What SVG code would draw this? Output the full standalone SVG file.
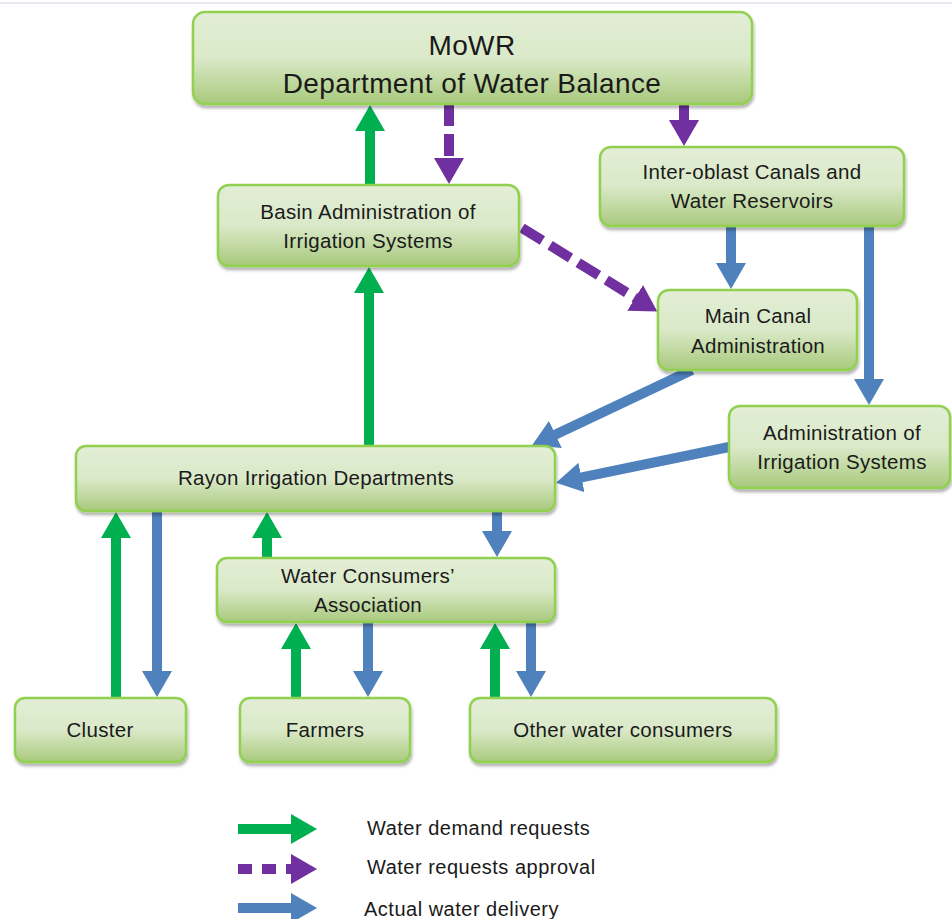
<svg xmlns="http://www.w3.org/2000/svg" width="952" height="919" viewBox="0 0 952 919">
<style>
.box{fill:url(#g);stroke:#92d050;stroke-width:2.5;filter:url(#sh)}
.t{font-family:"Liberation Sans","Open Sans",sans-serif;font-size:20.5px;letter-spacing:0.3px;fill:#1a1a1a;text-anchor:middle}
.big{font-size:28px;letter-spacing:0.4px}
.lg{font-family:"Liberation Sans","Open Sans",sans-serif;font-size:20px;letter-spacing:0.5px;fill:#1a1a1a}
.gr{stroke:#00b050;stroke-width:10;fill:none;marker-end:url(#ag)}
.pu{stroke:#7030a0;stroke-width:10;fill:none;marker-end:url(#ap)}
.pd{stroke:#7030a0;stroke-width:10;fill:none;stroke-dasharray:22 8;marker-end:url(#ap)}
.bl{stroke:#4f81bd;stroke-width:10;fill:none;marker-end:url(#ab)}
</style>
<defs>
<linearGradient id="g" x1="0" y1="0" x2="0" y2="1">
<stop offset="0" stop-color="#e2eed6"/>
<stop offset="0.5" stop-color="#dae9c8"/>
<stop offset="1" stop-color="#a8c97c"/>
</linearGradient>
<filter id="sh" x="-10%" y="-10%" width="120%" height="130%">
<feDropShadow dx="1" dy="3" stdDeviation="1.5" flood-color="#000" flood-opacity="0.3"/>
</filter>
<marker id="ag" markerUnits="userSpaceOnUse" markerWidth="26" markerHeight="30" viewBox="0 0 26 30" refX="1" refY="15" orient="auto"><path d="M0,0 L26,15 L0,30 Z" fill="#00b050"/></marker>
<marker id="ap" markerUnits="userSpaceOnUse" markerWidth="26" markerHeight="30" viewBox="0 0 26 30" refX="1" refY="15" orient="auto"><path d="M0,0 L26,15 L0,30 Z" fill="#7030a0"/></marker>
<marker id="ab" markerUnits="userSpaceOnUse" markerWidth="26" markerHeight="30" viewBox="0 0 26 30" refX="1" refY="15" orient="auto"><path d="M0,0 L26,15 L0,30 Z" fill="#4f81bd"/></marker>
</defs>
<rect width="952" height="919" fill="#fff"/>
<line x1="0" y1="3" x2="952" y2="3" stroke="#dfe5ec" stroke-width="1.5"/>

<g id="connectors">
<line class="gr" x1="370" y1="185" x2="370" y2="130"/>
<line class="pd" x1="449" y1="104" x2="449" y2="159"/>
<line class="pu" x1="684" y1="104" x2="684" y2="121"/>
<line class="pd" x1="522" y1="228" x2="636" y2="298.4" style="stroke-dasharray:24 9"/>
<line class="bl" x1="731" y1="226" x2="731" y2="264"/>
<line class="bl" x1="869" y1="226" x2="869" y2="380"/>
<line class="gr" x1="369" y1="446" x2="369" y2="292"/>
<line class="bl" x1="692" y1="370" x2="554.5" y2="434.9"/>
<line class="bl" x1="729" y1="447" x2="580.5" y2="477.7"/>
<line class="gr" x1="116" y1="698" x2="116" y2="537"/>
<line class="bl" x1="157" y1="511" x2="157" y2="672"/>
<line class="gr" x1="267" y1="558" x2="267" y2="537"/>
<line class="bl" x1="497" y1="511" x2="497" y2="532"/>
<line class="gr" x1="296" y1="698" x2="296" y2="648"/>
<line class="bl" x1="368" y1="622" x2="368" y2="672"/>
<line class="gr" x1="495" y1="698" x2="495" y2="648"/>
<line class="bl" x1="531" y1="622" x2="531" y2="672"/>
</g>

<g id="mowr"><rect class="box" x="193" y="12" width="559" height="92" rx="12"/>
<text class="t big" x="472" y="55">MoWR</text><text class="t big" x="472" y="93">Department of Water Balance</text></g>
<g id="basin"><rect class="box" x="218" y="185" width="301" height="81" rx="11"/>
<text class="t" x="368" y="219">Basin Administration of</text><text class="t" x="368" y="248">Irrigation Systems</text></g>
<g id="interoblast"><rect class="box" x="600" y="147" width="304" height="79" rx="11"/>
<text class="t" x="752" y="179">Inter-oblast Canals and</text><text class="t" x="752" y="208">Water Reservoirs</text></g>
<g id="maincanal"><rect class="box" x="658" y="290" width="199" height="80" rx="11"/>
<text class="t" x="758" y="323">Main Canal</text><text class="t" x="758" y="353">Administration</text></g>
<g id="adminirr"><rect class="box" x="729" y="406" width="221" height="82" rx="11"/>
<text class="t" x="842" y="440">Administration of</text><text class="t" x="842" y="469">Irrigation Systems</text></g>
<g id="rayon"><rect class="box" x="76" y="446" width="479" height="65" rx="10"/>
<text class="t" x="316" y="485">Rayon Irrigation Departments</text></g>
<g id="wca"><rect class="box" x="217" y="558" width="338" height="64" rx="10"/>
<text class="t" x="368" y="583">Water Consumers’</text><text class="t" x="368" y="612">Association</text></g>
<g id="cluster"><rect class="box" x="15" y="698" width="171" height="64" rx="10"/>
<text class="t" x="100" y="737">Cluster</text></g>
<g id="farmers"><rect class="box" x="240" y="698" width="170" height="64" rx="10"/>
<text class="t" x="325" y="737">Farmers</text></g>
<g id="other"><rect class="box" x="470" y="698" width="306" height="64" rx="10"/>
<text class="t" x="623" y="737">Other water consumers</text></g>

<g id="legend">
<line class="gr" x1="238" y1="829" x2="292" y2="829"/>
<line class="pd" x1="238" y1="869" x2="292" y2="869" style="stroke-dasharray:14 10"/>
<line class="bl" x1="238" y1="908" x2="292" y2="908"/>
<text class="lg" x="367" y="835">Water demand requests</text>
<text class="lg" x="367" y="874">Water requests approval</text>
<text class="lg" x="364" y="916">Actual water delivery</text>
</g>
</svg>
